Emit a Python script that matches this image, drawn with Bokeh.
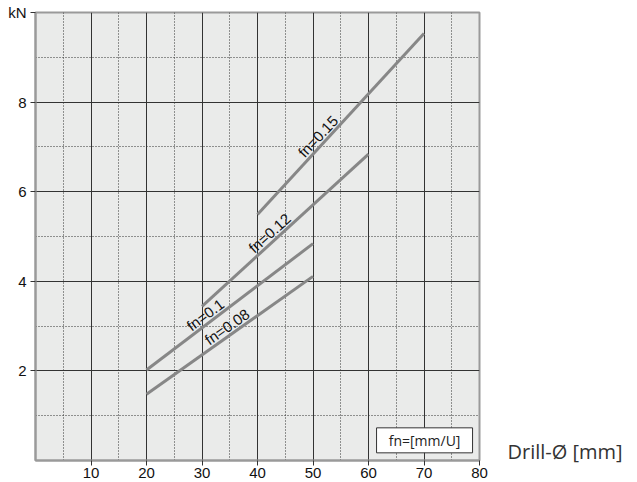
import numpy as np
from bokeh.plotting import figure
from bokeh.models import FixedTicker, LinearAxis, Range1d
from bokeh.core.properties import value
from bokeh.embed import file_html
from bokeh.resources import INLINE

# ---- data ----
series_names = ["fn=0.15", "fn=0.12", "fn=0.1", "fn=0.08"]
drill_start = [40, 30, 20, 20]
drill_end = [70, 60, 50, 50]
force_start = [5.49, 3.44, 2.02, 1.48]
force_end = [9.53, 6.84, 4.84, 4.11]
label_x = [52.0, 43.2, 31.5, 35.4]
label_angle = [47, 42, 37, 35]
x_ticks = [10, 20, 30, 40, 50, 60, 70, 80]
x_grid_major = [10, 20, 30, 40, 50, 60, 70]
x_grid_minor = [5, 15, 25, 35, 45, 55, 65, 75]
y_ticks = [2, 4, 6, 8, 10]
y_grid_major = [2, 4, 6, 8]
y_grid_minor = [1, 3, 5, 7, 9]
y_unit = "kN"
x_title = "Drill-Ø [mm]"
x_title_pos = 0.2
unit_note = "fn=[mm/U]"

p = figure(width=630, height=480, output_backend="svg", toolbar_location=None,
           x_range=Range1d(0, 80), y_range=Range1d(0, 10),
           min_border_left=35, min_border_right=151, min_border_top=12, min_border_bottom=0)

p.background_fill_color = "#eaebea"
p.border_fill_color = "white"
p.outline_line_color = "#9a9a9a"
p.outline_line_width = 2

# grids
p.xgrid.ticker = FixedTicker(ticks=x_grid_major, minor_ticks=x_grid_minor)
p.ygrid.ticker = FixedTicker(ticks=y_grid_major, minor_ticks=y_grid_minor)
for g in (p.xgrid, p.ygrid):
    g.grid_line_color = "#333333"
    g.grid_line_width = 1
    g.minor_grid_line_color = "#333333"
    g.minor_grid_line_dash = "1 2"
    g.minor_grid_line_width = 1

# axes
p.xaxis.ticker = FixedTicker(ticks=x_ticks)
p.yaxis.ticker = FixedTicker(ticks=y_ticks)
p.yaxis.major_label_overrides = {10: y_unit}
for ax in (p.xaxis, p.yaxis):
    ax.axis_line_color = "#9a9a9a"
    ax.axis_line_width = 2
    ax.major_tick_line_color = "#333333"
    ax.major_tick_out = 5
    ax.major_tick_in = 0
    ax.minor_tick_line_color = None
    ax.major_label_text_font = "Liberation Sans"
    ax.major_label_text_font_size = "15px"
    ax.major_label_text_color = "#111111"
p.xaxis.major_label_standoff = 2
p.yaxis.major_label_standoff = 4

# right-hand axis carrying the x-axis title
rax = LinearAxis(ticker=FixedTicker(ticks=[x_title_pos]),
                 major_label_overrides={x_title_pos: x_title})
rax.axis_line_color = None
rax.major_tick_line_color = None
rax.minor_tick_line_color = None
rax.major_tick_out = 0
rax.major_label_standoff = 28
rax.major_label_text_font = "Open Sans"
rax.major_label_text_font_size = "20px"
rax.major_label_text_color = "#333333"
p.add_layout(rax, "right")

# lines
for xs, xe, ys, ye in zip(drill_start, drill_end, force_start, force_end):
    p.line([xs, xe], [ys, ye], line_color="#878787", line_width=3)

# line labels
lab_y = [float(np.interp(lx, [xs, xe], [ys, ye]))
         for lx, xs, xe, ys, ye in zip(label_x, drill_start, drill_end, force_start, force_end)]
p.text(x=label_x, y=lab_y, text=series_names, angle=label_angle, angle_units="deg",
       text_align="center", text_baseline="bottom", text_font=value("Liberation Sans"),
       text_font_size="15px", text_color="#111111")

# unit box
p.rect(x=[70.1], y=[0.45], width=96, height=25, width_units="screen", height_units="screen",
       fill_color="white", line_color="#333333", line_width=1)
p.text(x=[70.1], y=[0.45], text=[unit_note], text_align="center", text_baseline="middle",
       text_font=value("Open Sans"), text_font_size="14px", text_color="#222222")

open("out.html", "w").write(file_html(p, INLINE))
